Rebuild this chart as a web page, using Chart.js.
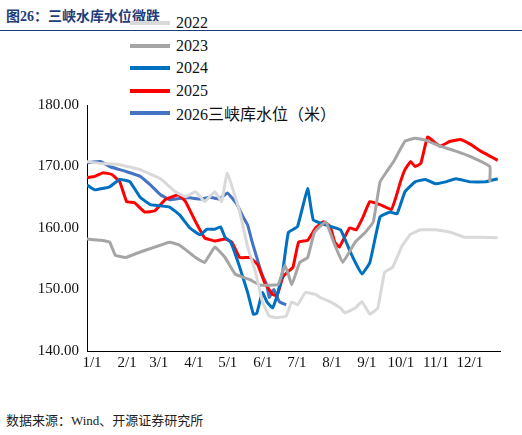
<!DOCTYPE html>
<html><head><meta charset="utf-8">
<script src="https://cdn.jsdelivr.net/npm/chart.js@4"></script>
<style>
body{margin:0;width:522px;height:435px;background:#fff;font-family:"Liberation Serif","Noto Sans CJK SC",serif;position:relative;overflow:hidden}
#title{position:absolute;left:6px;top:5px;font:bold 14px "Liberation Serif","Noto Sans CJK SC";color:#1F3D7A}
#rule{position:absolute;left:0;top:30px;width:522px;border-top:1px solid #1F3D7A}
#src{position:absolute;left:6px;top:410px;font:13px "Liberation Serif","Noto Sans CJK SC";color:#222}
#legend{position:absolute;left:130px;top:12px;font:16px "Liberation Serif","Noto Sans CJK SC";color:#111}
#legend div{height:22.5px;display:flex;align-items:center}
#legend span{display:inline-block;width:40px;height:4px;margin-right:6px}
#wrap{position:absolute;left:0;top:93px;width:515px;height:282px}
</style></head><body>
<div id="title">图26：三峡水库水位微跌</div>
<div id="rule"></div>
<div id="legend"></div>
<div id="wrap"><canvas id="myChart"></canvas></div>
<div id="src">数据来源：Wind、开源证券研究所</div>
<script>
const monthDays = [0,31,59,90,120,151,181,212,243,273,304,334];
const monthLabels = ['1/1','2/1','3/1','4/1','5/1','6/1','7/1','8/1','9/1','10/1','11/1','12/1'];

const days2022 = [0,12,29,47,65,78,87,96,104,113,119,124,135,142,149,155,161,167,176,181,186,193,202,206,215,224,228,237,243,250,257,263,270,278,286,295,308,321,334,349,363];
const lvl2022 = [170.8,170.5,170.3,169.5,168,165.9,165.1,165.9,164.3,165.9,164.3,168.9,162.6,156.9,152.8,148,145.7,145.4,145.7,148,147.5,149.5,149.2,148.7,148,147,146.2,147,148,146,147,152.8,153.6,156.9,159,159.7,159.7,159.3,158.5,158.5,158.4];

const days2023 = [0,12,20,25,34,47,60,73,82,96,104,113,122,131,138,144,153,162,169,175,181,188,195,201,211,218,226,237,246,253,259,265,271,281,290,299,312,326,339,356,356];
const lvl2023 = [158.2,158,157.7,155.6,155.2,156.1,156.9,157.7,157.2,155.2,154.4,156.9,155.2,152.5,152,151.6,150.7,150.7,150.8,154,150.8,154.4,155.2,159.3,161,157.7,154.4,157.7,159.3,161,167.5,169.2,170.8,174.1,174.6,174.3,173.3,172.5,171.6,170,167.5];

const days2024 = [0,7,20,29,38,47,56,65,73,82,91,100,106,113,118,122,127,135,142,147,150,155,159,164,168,173,178,186,195,200,211,224,233,238,243,250,259,268,274,281,290,299,308,317,326,339,352,363];
const lvl2024 = [167,166.2,166.7,167.9,167.5,165,163.8,163.6,163.4,162.1,160,158.9,159.8,159.8,160.2,158.5,157.7,153.6,149.5,146,146.1,149.5,148,147,149,153,159.3,160.2,166.4,161.3,160.5,159.7,156,154.1,152.5,154.4,161.8,162.6,162.3,165.9,167.5,167.9,167.2,167.5,168,167.5,167.5,168];

const days2025 = [0,7,14,22,29,35,42,51,60,69,81,87,96,104,113,122,128,135,144,151,157,164,168,173,177,182,187,195,202,209,215,219,223,232,238,244,250,259,269,273,277,281,286,290,295,301,308,312,321,330,339,348,357,363];
const lvl2025 = [168.2,168.4,169,168.7,167.5,164.3,164.1,162.6,162.8,164.6,165.4,164.3,161,158.4,157.9,158.2,157.7,155.2,155.2,154,151.1,149.2,149,152,152.8,153.6,157.7,158,160,161,160.2,157.7,156.9,160,159.7,161.8,164.3,163.8,163,165,167.5,169.5,170.8,170,170.5,174.8,173.8,173.3,174.1,174.4,173.6,172.5,171.6,171,170.7];

const days2026 = [0,12,20,34,47,56,65,73,82,91,100,109,117,124,132,138,142,146,152,155,159,161,165,170,176];
const lvl2026 = [170.6,170.8,170,169.2,168.4,167,165.4,164.6,164.8,164.9,164.7,165,164.7,165.7,164,161.8,160.5,157.7,154,152.3,150.7,148.7,150,148,147.5];

const seriesNames = ['2022','2023','2024','2025','2026三峡库水位（米）'];
const seriesColors = ['#D9D9D9','#A5A5A5','#0070C0','#FF0000','#4472C4'];
const seriesDays = [days2022,days2023,days2024,days2025,days2026];
const seriesLvls = [lvl2022,lvl2023,lvl2024,lvl2025,lvl2026];

const leg = document.getElementById('legend');
seriesNames.forEach((n,i)=>{
  leg.innerHTML += '<div><span style="background:'+seriesColors[i]+'"></span>'+n+'</div>';
});

const datasets = seriesNames.map((n,i)=>({
  label: n,
  data: seriesDays[i].map((d,j)=>({x:d,y:seriesLvls[i][j]})),
  borderColor: seriesColors[i],
  borderWidth: 3,
  pointRadius: 0,
  tension: 0.1,
  fill: false
}));

const tickFont = { family: "'Liberation Serif', serif", size: 15 };

new Chart(document.getElementById('myChart'), {
  type: 'line',
  data: { datasets },
  options: {
    responsive: true,
    maintainAspectRatio: false,
    animation: false,
    layout: { padding: { top: 4, right: 15 } },
    plugins: { legend: { display: false }, tooltip: { enabled: false } },
    scales: {
      x: {
        type: 'linear', min: 0, max: 365,
        afterBuildTicks: s => { s.ticks = monthDays.map(v => ({value: v})); },
        ticks: {
          autoSkip: false, maxRotation: 0, labelOffset: 5, color: '#111',
          font: tickFont,
          callback: (v, i) => monthLabels[i]
        },
        grid: { display: false, drawTicks: false },
        border: { color: '#000' }
      },
      y: {
        min: 140, max: 180,
        afterFit: s => { s.width = 87; },
        ticks: {
          stepSize: 10, color: '#111',
          font: tickFont,
          callback: v => v.toFixed(2)
        },
        grid: { display: false, drawTicks: true, tickLength: 5, tickColor: '#000' },
        border: { color: '#000' }
      }
    }
  }
});
</script>
</body></html>
